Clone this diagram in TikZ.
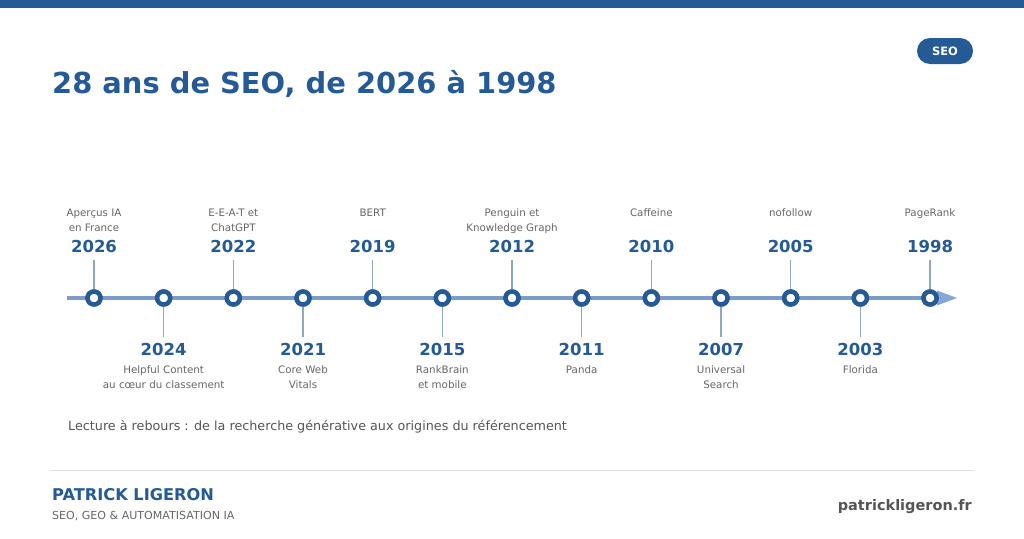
\documentclass[tikz,border=0pt]{standalone}
\usepackage{fontspec}
\setmainfont{DejaVu Sans}
\usetikzlibrary{calc}
\definecolor{navy}{HTML}{245A96}
\definecolor{axis}{HTML}{7B9CC8}
\definecolor{arrowc}{HTML}{86A6D6}
\definecolor{tick}{HTML}{90A7C2}
\definecolor{greytxt}{HTML}{666666}
\definecolor{captxt}{HTML}{555555}
\definecolor{sepc}{HTML}{DDDDDD}
\tikzset{
  dot/.style={circle,draw=navy,line width=4.4pt,fill=white,minimum size=13pt,inner sep=0pt},
  yr/.style={font=\fontsize{16.5}{18}\selectfont\bfseries,text=navy,inner sep=0pt,anchor=base},
  desc/.style={font=\fontsize{10.3}{15}\selectfont,text=greytxt,align=center,inner sep=0pt,anchor=base},
  conn/.style={draw=tick,line width=1.4pt},
  axisline/.style={draw=axis,line width=3.5pt},
}
\begin{document}
\begin{tikzpicture}[x=1pt,y=-1pt]
\useasboundingbox (0,0) rectangle (1024,538);
\fill[white] (0,0) rectangle (1024,538);
% top bar
\fill[navy] (0,0) rectangle (1024,8);
% SEO pill
\node[fill=navy,rounded corners=13pt,minimum width=56pt,minimum height=26pt,inner sep=0pt,
      text=white,font=\fontsize{11.5}{12}\selectfont\bfseries] (pill) at (945,51) {SEO};
% title
\node[anchor=base west,inner sep=0pt,text=navy,font=\fontsize{28.9}{32}\selectfont\bfseries] (title) at (52,93) {28 ans de SEO, de 2026 à 1998};
% axis
\coordinate (axstart) at (67,298);
\coordinate (axend) at (938,298);
\draw[axisline] (axstart) -- (axend);
\fill[arrowc] (937,290.5) -- (957,298) -- (937,305.5) -- cycle;
% top events (last line baseline given)
\foreach \i/\yy/\b/\d in {1/2026/231.7/{Aperçus IA\\en France},3/2022/231.7/{E-E-A-T et\\ChatGPT},5/2019/216.7/{BERT},7/2012/231.7/{Penguin et\\Knowledge Graph},9/2010/216.7/{Caffeine},11/2005/216.7/{nofollow},13/1998/216.7/{PageRank}}{
  \pgfmathsetmacro{\xx}{94+(\i-1)*69.67}
  \node[desc] (d\i) at (\xx,\b) {\d};
  \node[yr] (y\i) at (\xx,252) {\yy};
  \node[dot] (c\i) at (\xx,298) {};
  \draw[conn] ([yshift=-8pt]y\i.south) -- (c\i.north);
  \node[dot] at (c\i) {};
}
% bottom events
\foreach \i/\yy/\b/\d in {2/2024/388.7/{Helpful Content\\au cœur du classement},4/2021/388.7/{Core Web\\Vitals},6/2015/388.7/{RankBrain\\et mobile},8/2011/373.7/{Panda},10/2007/388.7/{Universal\\Search},12/2003/373.7/{Florida}}{
  \pgfmathsetmacro{\xx}{94+(\i-1)*69.67}
  \node[dot] (c\i) at (\xx,298) {};
  \node[yr] (y\i) at (\xx,355) {\yy};
  \node[desc] (d\i) at (\xx,\b) {\d};
  \draw[conn] (c\i.south) -- ([yshift=6pt]y\i.north);
  \node[dot] at (c\i) {};
}
% caption
\node[anchor=base west,inner sep=0pt,text=captxt,font=\fontsize{12.75}{15}\selectfont] (cap) at (68,430.5) {Lecture à rebours : de la recherche générative aux origines du référencement};
% separator
\coordinate (sepl) at (50,470.5);
\coordinate (sepr) at (974,470.5);
\draw[sepc,line width=1pt] (sepl) -- (sepr);
% footer
\node[anchor=base west,inner sep=0pt,text=navy,font=\fontsize{16.2}{18}\selectfont\bfseries] (author) at (52,500.5) {PATRICK LIGERON};
\node[anchor=base west,inner sep=0pt,text=greytxt,font=\fontsize{11.05}{12}\selectfont] (role) at (52,519) {SEO, GEO \& AUTOMATISATION IA};
\node[anchor=base east,inner sep=0pt,text=captxt,font=\fontsize{14.5}{16}\selectfont\bfseries] (site) at (972,510) {patrickligeron.fr};
\end{tikzpicture}
\end{document}
